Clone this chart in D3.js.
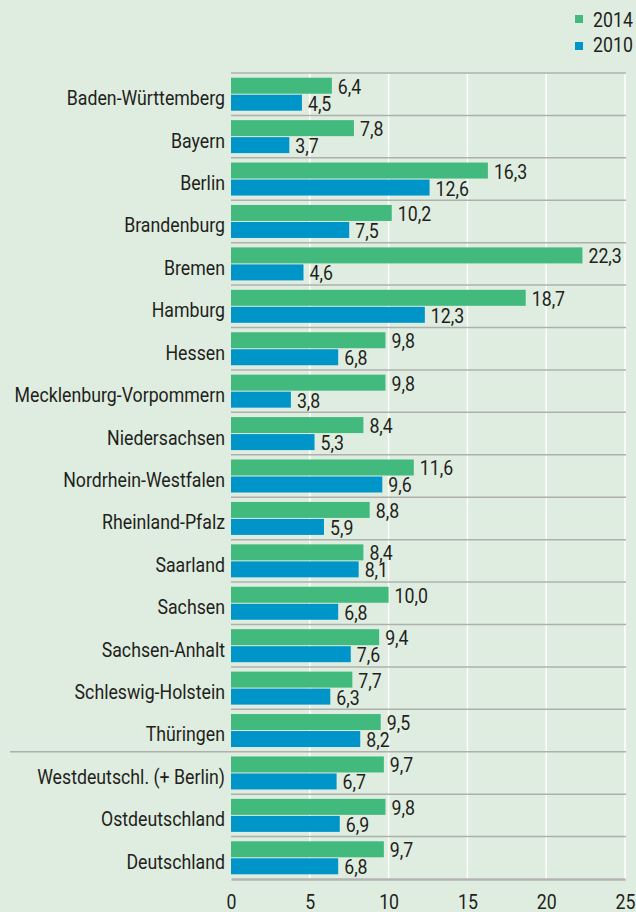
<!DOCTYPE html>
<html><head><meta charset="utf-8">
<script src="https://cdn.jsdelivr.net/npm/d3@7"></script>
<style>
html,body{margin:0;padding:0;background:#deeddf;}
svg{display:block;}
text{font-family:"Roboto",sans-serif;fill:#231f20;}
</style></head>
<body>
<svg id="chart" width="636" height="912"></svg>
<script>
const categories = ["Baden-Württemberg","Bayern","Berlin","Brandenburg","Bremen","Hamburg","Hessen","Mecklenburg-Vorpommern","Niedersachsen","Nordrhein-Westfalen","Rheinland-Pfalz","Saarland","Sachsen","Sachsen-Anhalt","Schleswig-Holstein","Thüringen","Westdeutschl. (+ Berlin)","Ostdeutschland","Deutschland"];
const values2014 = [6.4,7.8,16.3,10.2,22.3,18.7,9.8,9.8,8.4,11.6,8.8,8.4,10.0,9.4,7.7,9.5,9.7,9.8,9.7];
const values2010 = [4.5,3.7,12.6,7.5,4.6,12.3,6.8,3.8,5.3,9.6,5.9,8.1,6.8,7.6,6.3,8.2,6.7,6.9,6.8];
const seriesNames = ["2014","2010"];
const xTicks = [0,5,10,15,20,25];

(function(){
const colors = {"2014":"#43ba7d","2010":"#0095c8"};
const svg = d3.select("#chart");
const mLeft = 231, mRight = 625, mTop = 73, mBottom = 879;
const FS = 20.5, SX = 0.865;

const x = d3.scaleLinear().domain([0,25]).range([mLeft,mRight]);
const y = d3.scaleBand().domain(categories).range([mTop,mBottom]).paddingInner(0);
const bw = y.bandwidth();
const barH = 16;

// vertical gridlines
svg.append("g").selectAll("line").data(xTicks.slice(1)).join("line")
  .attr("x1",d=>x(d)).attr("x2",d=>x(d)).attr("y1",mTop).attr("y2",mBottom)
  .attr("stroke","#ffffff").attr("stroke-width",1.5);

// row separators
svg.append("g").selectAll("line").data(categories).join("line")
  .attr("x1",d=>d===categories[16]?10:mLeft).attr("x2",mRight+1)
  .attr("y1",d=>y(d)).attr("y2",d=>y(d))
  .attr("stroke","#aeb0ae").attr("stroke-width",1.5);

const fmt = v => d3.format(".1f")(v).replace(".",",");

const rows = svg.append("g").selectAll("g").data(categories).join("g")
  .attr("transform",d=>`translate(0,${y(d)})`);

const off = (bw - 2*barH - 1)/2;
rows.append("rect").attr("x",mLeft).attr("y",off)
  .attr("width",(d,i)=>x(values2014[i])-mLeft).attr("height",barH).attr("fill",colors["2014"]);
rows.append("rect").attr("x",mLeft).attr("y",off+barH+1)
  .attr("width",(d,i)=>x(values2010[i])-mLeft).attr("height",barH).attr("fill",colors["2010"]);

rows.append("text")
  .attr("transform",(d,i)=>`translate(${x(values2014[i])+6},${off+barH/2+1}) scale(${SX},1)`)
  .attr("dominant-baseline","central").attr("font-size",FS).text((d,i)=>fmt(values2014[i]));
rows.append("text")
  .attr("transform",(d,i)=>`translate(${x(values2010[i])+6},${off+barH+1+barH/2+1}) scale(${SX},1)`)
  .attr("dominant-baseline","central").attr("font-size",FS).text((d,i)=>fmt(values2010[i]));

rows.append("text")
  .attr("transform",`translate(225,${bw/2+4}) scale(${SX},1)`).attr("text-anchor","end")
  .attr("dominant-baseline","central").attr("font-size",FS).text(d=>d);

// axis
const axis = svg.append("g").attr("transform",`translate(0,${mBottom})`)
  .call(d3.axisBottom(x).tickValues(xTicks).tickSize(0).tickPadding(0));
axis.select(".domain").attr("stroke","#b4b4b4").attr("stroke-width",2.5);
axis.selectAll(".tick text").attr("font-size",FS).attr("fill","#231f20")
  .attr("font-family","Roboto,sans-serif")
  .attr("dy",null).attr("y",null).attr("dominant-baseline","central")
  .attr("transform",`translate(0,23) scale(${SX},1)`);

// legend
const legend = svg.append("g");
seriesNames.forEach((s,i)=>{
  legend.append("rect").attr("x",575).attr("y",15+i*27).attr("width",8).attr("height",8).attr("fill",colors[s]);
  legend.append("text").attr("transform",`translate(593,${20+i*25}) scale(${SX},1)`)
    .attr("dominant-baseline","central").attr("font-size",FS).text(s);
});
})();
</script>
</body></html>
